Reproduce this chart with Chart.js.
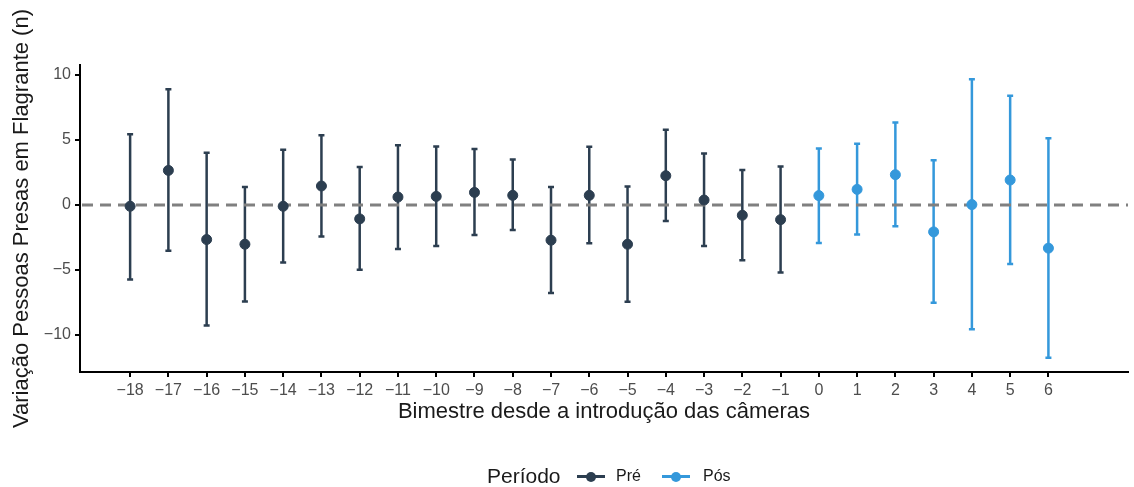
<!DOCTYPE html>
<html>
<head>
<meta charset="utf-8">
<script src="https://cdn.jsdelivr.net/npm/chart.js@4"></script>
<style>
  body { margin: 0; background: #fff; font-family: "Liberation Sans", Arial, sans-serif; }
  #wrap { position: relative; width: 1134px; height: 487px; }
  #legend { position: absolute; left: 0; top: 0; width: 1134px; height: 487px; color: #1a1a1a; }
  #legend > span { position: absolute; line-height: 1; }
  #legend .ttl { font-size: 21px; left: 487px; top: 465px; }
  #legend .key { width: 28px; height: 3px; top: 475px; }
  #legend .key span { position: absolute; left: 9px; top: -3.5px; width: 10px; height: 10px; border-radius: 50%; }
  #legend .lab { font-size: 16px; top: 468px; }
</style>
</head>
<body>
<div id="wrap">
  <canvas id="chart" width="1134" height="487"></canvas>
  <div id="legend">
    <span class="ttl">Período</span>
    <span class="key" style="left:577px;background:#2c3e50"><span style="background:#2c3e50"></span></span>
    <span class="lab" style="left:616px">Pré</span>
    <span class="key" style="left:662px;background:#3498db"><span style="background:#3498db"></span></span>
    <span class="lab" style="left:703px">Pós</span>
  </div>
</div>
<script>
// Data
const preBimestre = [-18, -17, -16, -15, -14, -13, -12, -11, -10, -9, -8, -7, -6, -5, -4, -3, -2, -1];
const preEstimate = [-0.1, 2.66, -2.66, -3.02, -0.1, 1.46, -1.07, 0.61, 0.66, 0.97, 0.74, -2.71, 0.74, -3.02, 2.25, 0.38, -0.79, -1.13];
const preLower = [-5.73, -3.53, -9.28, -7.42, -4.42, -2.43, -4.99, -3.38, -3.15, -2.3, -1.92, -6.78, -2.94, -7.44, -1.23, -3.15, -4.25, -5.19];
const preUpper = [5.45, 8.9, 4.02, 1.38, 4.25, 5.37, 2.92, 4.6, 4.5, 4.3, 3.5, 1.38, 4.48, 1.43, 5.78, 3.96, 2.69, 2.97];

const posBimestre = [0, 1, 2, 3, 4, 5, 6];
const posEstimate = [0.72, 1.2, 2.33, -2.07, 0.03, 1.92, -3.32];
const posLower = [-2.92, -2.28, -1.64, -7.52, -9.57, -4.55, -11.76];
const posUpper = [4.35, 4.71, 6.34, 3.45, 9.67, 8.41, 5.14];

const yTicks = [-10, -5, 0, 5, 10];
const xTicks = [-18, -17, -16, -15, -14, -13, -12, -11, -10, -9, -8, -7, -6, -5, -4, -3, -2, -1, 0, 1, 2, 3, 4, 5, 6];

const darkBlue = '#2c3e50';
const lightBlue = '#3498db';

const toPoints = (xs, ys) => xs.map((x, i) => ({ x: x, y: ys[i] }));
const minus = v => String(v).replace('-', '\u2212');

// error bars + reference line at zero
const errorBars = {
  id: 'errorBars',
  beforeDatasetsDraw(chart) {
    const ctx = chart.ctx;
    const xs = chart.scales.x, ys = chart.scales.y;
    const area = chart.chartArea;
    chart.data.datasets.forEach(ds => {
      ctx.save();
      ctx.strokeStyle = ds.borderColor;
      ctx.lineWidth = 2.5;
      ds.data.forEach((p, i) => {
        const px = xs.getPixelForValue(p.x);
        const lo = ys.getPixelForValue(ds.lower[i]);
        const hi = ys.getPixelForValue(ds.upper[i]);
        ctx.beginPath();
        ctx.moveTo(px, lo); ctx.lineTo(px, hi);
        ctx.moveTo(px - 3, lo); ctx.lineTo(px + 3, lo);
        ctx.moveTo(px - 3, hi); ctx.lineTo(px + 3, hi);
        ctx.stroke();
      });
      ctx.restore();
    });
    const y0 = ys.getPixelForValue(0);
    ctx.save();
    ctx.strokeStyle = '#808080';
    ctx.lineWidth = 3;
    ctx.setLineDash([11, 7]);
    ctx.beginPath();
    ctx.moveTo(area.left + 2, y0);
    ctx.lineTo(area.right, y0);
    ctx.stroke();
    ctx.restore();
  }
};

new Chart(document.getElementById('chart'), {
  type: 'scatter',
  data: {
    datasets: [
      {
        label: 'Pré',
        data: toPoints(preBimestre, preEstimate),
        lower: preLower,
        upper: preUpper,
        backgroundColor: darkBlue,
        borderColor: darkBlue,
        pointRadius: 5,
      },
      {
        label: 'Pós',
        data: toPoints(posBimestre, posEstimate),
        lower: posLower,
        upper: posUpper,
        backgroundColor: lightBlue,
        borderColor: lightBlue,
        pointRadius: 5,
      },
    ],
  },
  options: {
    responsive: false,
    animation: false,
    layout: { padding: { top: 65, right: 0, left: 0, bottom: 0 } },
    plugins: {
      legend: { display: false },
      tooltip: { enabled: false },
    },
    scales: {
      x: {
        type: 'linear',
        min: -19.31,
        max: 8.08,
        afterFit: s => { s.height = 115; },
        afterBuildTicks: s => { s.ticks = xTicks.map(v => ({ value: v })); },
        grid: { drawOnChartArea: false, drawTicks: true, tickLength: 5, color: '#000', lineWidth: 2 },
        border: { display: true, color: '#000', width: 2 },
        ticks: {
          padding: 4,
          color: '#4d4d4d',
          font: { family: 'Liberation Sans', size: 16 },
          maxRotation: 0,
          autoSkip: false,
          callback: v => minus(v),
        },
        title: {
          display: true,
          text: 'Bimestre desde a introdução das câmeras',
          color: '#1a1a1a',
          font: { family: 'Liberation Sans', size: 22 },
          padding: { top: 0, bottom: 62 },
        },
      },
      y: {
        min: -12.85,
        max: 10.77,
        afterFit: s => { s.width = 80; },
        afterBuildTicks: s => { s.ticks = yTicks.map(v => ({ value: v })); },
        grid: { drawOnChartArea: false, drawTicks: true, tickLength: 5, color: '#000', lineWidth: 2 },
        border: { display: true, color: '#000', width: 2 },
        ticks: {
          padding: 4,
          color: '#4d4d4d',
          font: { family: 'Liberation Sans', size: 16 },
          callback: v => minus(v),
        },
        title: {
          display: true,
          text: 'Variação Pessoas Presas em Flagrante (n)',
          color: '#1a1a1a',
          font: { family: 'Liberation Sans', size: 22 },
          padding: { top: 9, bottom: 0 },
        },
      },
    },
  },
  plugins: [errorBars],
});
</script>
</body>
</html>
